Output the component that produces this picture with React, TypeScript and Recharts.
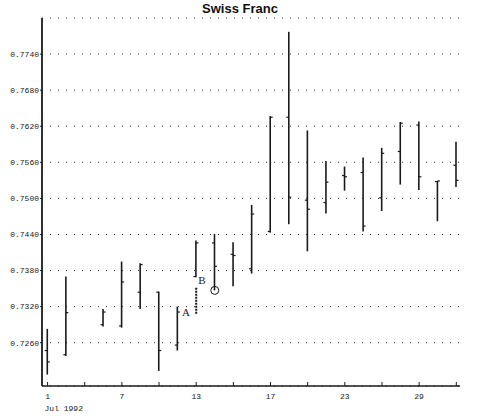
import {
  ComposedChart,
  Bar,
  XAxis,
  YAxis,
  CartesianGrid,
  ReferenceDot,
  ReferenceLine,
} from 'recharts';

// trading-day slot on the x axis (Jul 3 has no quote)
const SLOTS = [0, 1, 3, 4, 5, 6, 7, 8, 9, 10, 11, 12, 13, 14, 15, 16, 17, 18, 19, 20, 21, 22];
const DAYS = [1, 2, 6, 7, 8, 9, 10, 13, 14, 15, 16, 17, 20, 21, 22, 23, 24, 27, 28, 29, 30, 31];
const OPEN = [
  0.7247, 0.724, 0.729, 0.7288, 0.7344, 0.7344, 0.7256, 0.737, 0.7426, 0.7407, 0.7383, 0.7445,
  0.7635, 0.7497, 0.7493, 0.7538, 0.7543, 0.7501, 0.7578, 0.7622, 0.7528, 0.7555,
];
const HIGH = [
  0.7283, 0.737, 0.7316, 0.7395, 0.7392, 0.7345, 0.732, 0.743, 0.7441, 0.7427, 0.7489, 0.7637,
  0.7777, 0.7613, 0.7562, 0.7553, 0.7568, 0.7584, 0.7627, 0.7628, 0.7529, 0.7594,
];
const LOW = [
  0.7207, 0.7238, 0.7287, 0.7285, 0.7316, 0.7213, 0.7247, 0.7369, 0.7347, 0.7354, 0.7375, 0.7443,
  0.7457, 0.7412, 0.7475, 0.7513, 0.7445, 0.7479, 0.7523, 0.7514, 0.7462, 0.7519,
];
const CLOSE = [
  0.7228, 0.731, 0.7311, 0.7361, 0.739, 0.7247, 0.7311, 0.7426, 0.7387, 0.7405, 0.7474, 0.7635,
  0.7502, 0.7482, 0.7527, 0.7536, 0.7454, 0.7575, 0.7625, 0.7536, 0.7529, 0.753,
];

const X_TICKS = [0, 2, 4, 6, 8, 10, 12, 14, 16, 18, 20, 22];
const X_LABELS: Record<number, string> = { 0: '1', 4: '7', 8: '13', 12: '17', 16: '23', 20: '29' };
const Y_TICKS = [0.726, 0.732, 0.738, 0.744, 0.75, 0.756, 0.762, 0.768, 0.774];

const data = SLOTS.map((slot, i) => ({
  slot,
  day: DAYS[i],
  open: OPEN[i],
  high: HIGH[i],
  low: LOW[i],
  close: CLOSE[i],
}));

const INK = '#1a1a1a';
const MONO = '"Liberation Mono", "DejaVu Sans Mono", monospace';
const SERIF = '"Liberation Serif", "DejaVu Serif", serif';

function OhlcShape(props: any) {
  const { x, y, width, height, payload } = props;
  const top = Math.min(y, y + height);
  const bottom = Math.max(y, y + height);
  const cx = x + width / 2;
  const span = payload.high - payload.low || 1;
  const yOf = (v: number) => top + ((payload.high - v) / span) * (bottom - top);
  const oy = yOf(payload.open);
  const cy = yOf(payload.close);
  return (
    <g stroke={INK} strokeWidth={1.6}>
      <line x1={cx} x2={cx} y1={top} y2={bottom} />
      <line x1={cx - 2.5} x2={cx} y1={oy} y2={oy} strokeWidth={1.2} />
      <line x1={cx} x2={cx + 2.5} y1={cy} y2={cy} strokeWidth={1.2} />
    </g>
  );
}

function XTick(props: any) {
  const { x, y, payload } = props;
  const label = X_LABELS[payload.value] ?? '';
  return (
    <g>
      <line x1={x} x2={x} y1={y - 4} y2={y} stroke={INK} strokeWidth={1} />
      <text x={x} y={y + 13} textAnchor="middle" fontSize={8} fontFamily={MONO} fill={INK}>
        {label}
      </text>
      {payload.value === 0 && (
        <text x={x - 3} y={y + 25} textAnchor="start" fontSize={8} fontFamily={MONO} fill={INK}>
          Jul 1992
        </text>
      )}
    </g>
  );
}

const letter = (ch: string) => (p: any) => (
  <text
    x={p.cx}
    y={p.cy}
    dy={3.5}
    textAnchor="middle"
    fontSize={11}
    fontFamily={SERIF}
    fill={INK}
  >
    {ch}
  </text>
);

export default function App() {
  return (
    <div style={{ position: 'absolute', left: 0, top: 0, width: 480, height: 416, background: '#fff' }}>
      <div
        style={{
          position: 'absolute',
          top: 1,
          left: 0,
          width: 480,
          textAlign: 'center',
          fontFamily: '"Liberation Sans", Arial, sans-serif',
          fontWeight: 'bold',
          fontSize: 13,
          lineHeight: '15px',
          color: '#111',
        }}
      >
        Swiss Franc
      </div>
      <ComposedChart
        width={480}
        height={416}
        data={data}
        margin={{ top: 18, right: 20, bottom: 0, left: 0 }}
      >
        <CartesianGrid vertical={false} stroke="#333" strokeDasharray="1 7" />
        <XAxis
          dataKey="slot"
          type="number"
          domain={[-0.3, 22.2]}
          ticks={X_TICKS}
          interval={0}
          height={30}
          tickSize={0}
          tickMargin={0}
          tick={<XTick />}
          axisLine={{ stroke: INK, strokeWidth: 1.5 }}
          allowDataOverflow
        />
        <YAxis
          type="number"
          domain={[0.7188, 0.78]}
          ticks={Y_TICKS}
          interval={0}
          width={42}
          tickSize={2}
          tickMargin={1}
          tickFormatter={(v: number) => v.toFixed(4)}
          tick={{ fontSize: 8, fontFamily: MONO, fill: INK }}
          tickLine={{ stroke: INK }}
          axisLine={{ stroke: INK, strokeWidth: 1.8 }}
          allowDataOverflow
        />
        <Bar
          dataKey={(d: any) => [d.low, d.high]}
          barSize={6}
          shape={<OhlcShape />}
          isAnimationActive={false}
        />
        <ReferenceLine
          segment={[
            { x: 8, y: 0.7308 },
            { x: 8, y: 0.7352 },
          ]}
          stroke={INK}
          strokeWidth={2}
          strokeDasharray="2 1"
        />
        <ReferenceDot x={9} y={0.7347} r={4} fill="none" stroke={INK} strokeWidth={1} />
        <ReferenceDot x={7.45} y={0.731} r={0} shape={letter('A')} />
        <ReferenceDot x={8.31} y={0.7363} r={0} shape={letter('B')} />
      </ComposedChart>
    </div>
  );
}
